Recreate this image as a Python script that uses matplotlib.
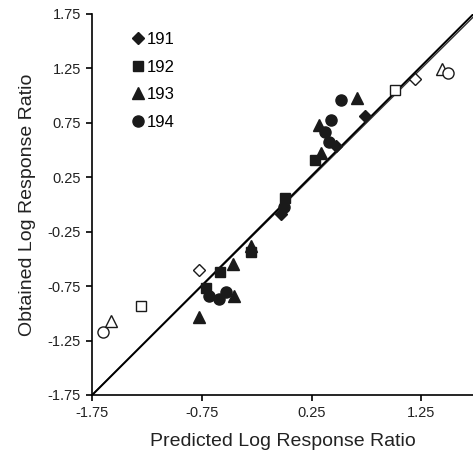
import matplotlib
matplotlib.use('Agg')
import matplotlib.pyplot as plt
import numpy as np

plt.rcParams['font.family'] = ['Liberation Sans', 'DejaVu Sans']

# Data (predicted, obtained)
subjects = ['191', '192', '193', '194']
markers = ['D', 's', '^', 'o']
sizes = [6.5, 7.5, 8.5, 8]

filled_x = {
    '191': [0.74, 0.47, -0.03],
    '192': [0.28, 0.01, -0.30, -0.58, -0.71],
    '193': [0.66, 0.32, 0.34, -0.30, -0.47, -0.46, -0.78],
    '194': [0.52, 0.43, 0.37, 0.41, 0.00, -0.68, -0.59, -0.53],
}
filled_y = {
    '191': [0.81, 0.54, -0.09],
    '192': [0.41, 0.06, -0.44, -0.62, -0.77],
    '193': [0.98, 0.73, 0.47, -0.38, -0.55, -0.84, -1.03],
    '194': [0.96, 0.78, 0.67, 0.57, -0.02, -0.84, -0.87, -0.80],
}
open_x = {
    '191': [-0.78, 1.19],
    '192': [-1.30, 1.01],
    '193': [-1.58, 1.44],
    '194': [-1.65, 1.49],
}
open_y = {
    '191': [-0.60, 1.15],
    '192': [-0.93, 1.05],
    '193': [-1.07, 1.24],
    '194': [-1.17, 1.21],
}

fit_slope = 1.008
fit_intercept = 0.012

ticks = [-1.75, -1.25, -0.75, -0.25, 0.25, 0.75, 1.25, 1.75]
xticks = [-1.75, -0.75, 0.25, 1.25]

fig = plt.figure(figsize=(4.73, 4.66), dpi=100)
ax = fig.add_axes([0.1945, 0.1524, 0.8055, 0.8176])

xmin, xmax = -1.75, 1.72
line_x = np.array([xmin, xmax])
ax.plot(line_x, line_x, color='#333333', linewidth=1.0, zorder=1)
ax.plot(line_x, fit_slope * line_x + fit_intercept, color='black', linewidth=1.4, zorder=1)

ink = '#1a1a1a'
for subj, m, ms in zip(subjects, markers, sizes):
    ax.plot(filled_x[subj], filled_y[subj], linestyle='none', marker=m, markersize=ms,
            color=ink, markeredgecolor=ink, zorder=3, label=subj, clip_on=False)
    ax.plot(open_x[subj], open_y[subj], linestyle='none', marker=m, markersize=ms,
            markerfacecolor='white', markeredgecolor=ink, markeredgewidth=1.0,
            zorder=2, clip_on=False)

ax.set_xlim(xmin, xmax)
ax.set_ylim(-1.75, 1.75)
ax.set_xticks(xticks)
ax.set_xticklabels([f'{t:.2f}' for t in xticks])
ax.set_yticks(ticks)
ax.set_yticklabels([f'{t:.2f}' for t in ticks])

for side in ['top', 'right']:
    ax.spines[side].set_visible(False)
for side in ['left', 'bottom']:
    ax.spines[side].set_linewidth(1.2)
ax.tick_params(direction='out', length=4, width=1.2, labelsize=10.5,
               colors='black', labelcolor='#222222', pad=4)

ax.set_xlabel('Predicted Log Response Ratio', fontsize=14, color='#222222', labelpad=9)
ax.set_ylabel('Obtained Log Response Ratio', fontsize=14, color='#222222', labelpad=8)

ax.legend(loc='upper left', bbox_to_anchor=(0.09, 0.97), frameon=False,
          fontsize=12, handlelength=0.6, handletextpad=0.2, labelspacing=0.75,
          borderaxespad=0)

fig.savefig('out.png', dpi=100)
